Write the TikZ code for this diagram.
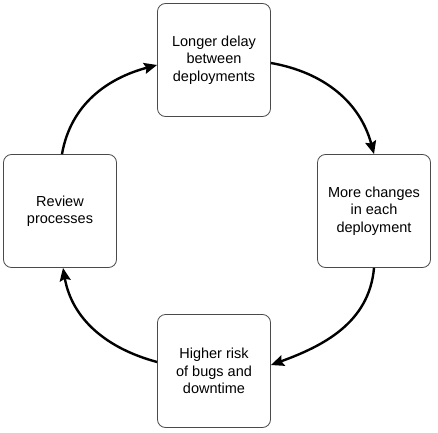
\documentclass[tikz,border=0pt]{standalone}
\usepackage{fontspec}
\setmainfont{Liberation Sans}
\usetikzlibrary{arrows.meta}
\definecolor{boxline}{HTML}{4A4A4A}

\begin{document}
\begin{tikzpicture}[x=1pt, y=1pt,
  stagebox/.style={rectangle, draw=boxline, line width=0.8pt, rounded corners=8pt,
                   minimum width=113pt, minimum height=113pt, inner sep=2pt,
                   align=center, font=\fontsize{14.5}{17.5}\selectfont},
  cycle/.style={line width=2.4pt, -{Stealth[length=13pt, width=11pt, inset=2pt]}},
]

\useasboundingbox (0, 0) rectangle (438, 432);

\node[stagebox] (delay) at (214, 372) {Longer delay\\between\\deployments};
\node[stagebox] (changes) at (374, 221) {More changes\\in each\\deployment};
\node[stagebox] (risk) at (214, 61) {Higher risk\\of bugs and\\downtime};
\node[stagebox] (review) at (60, 221) {Review\\processes};

\draw[cycle] (delay.-3) to[out=-10, in=105] (changes.north);
\draw[cycle] (changes.south) to[out=-95, in=20] (risk.6);
\draw[cycle] (risk.171) to[out=165, in=-80] (review.-87);
\draw[cycle] (review.88) to[out=80, in=195] (delay.185);

\end{tikzpicture}
\end{document}
